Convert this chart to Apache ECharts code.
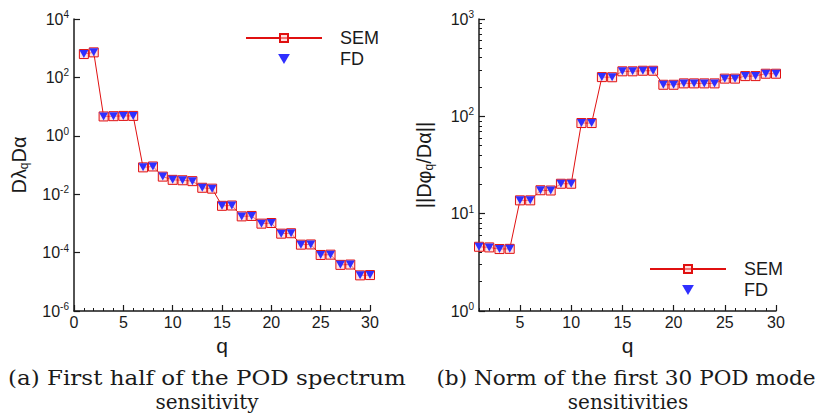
<!DOCTYPE html>
<html>
<head>
<meta charset="utf-8">
<script src="https://cdn.jsdelivr.net/npm/echarts@6/dist/echarts.min.js"></script>
<style>
  html, body { margin: 0; padding: 0; background: #fff; }
  #main { width: 817px; height: 419px; }
</style>
</head>
<body>
<div id="main"></div>
<script>
// q = 1..30
const modes = [1, 2, 3, 4, 5, 6, 7, 8, 9, 10, 11, 12, 13, 14, 15, 16, 17, 18, 19, 20, 21, 22, 23, 24, 25, 26, 27, 28, 29, 30]

// (a) D lambda_q / D alpha
const semLeft = [630, 720, 4.6, 4.7, 4.8, 4.8, 0.083, 0.089, 0.040, 0.031, 0.030, 0.028, 0.0166, 0.0155, 0.0040,
  0.0041, 0.00174, 0.0018, 0.00098, 0.00103, 0.000445, 0.00046, 0.000187, 0.00019, 8.3e-5, 8.5e-5, 3.8e-5, 3.9e-5, 1.66e-5, 1.7e-5]
const fdLeft = [630, 720, 4.6, 4.7, 4.8, 4.8, 0.083, 0.089, 0.040, 0.031, 0.030, 0.028, 0.0166, 0.0155, 0.0040,
  0.0041, 0.00174, 0.0018, 0.00098, 0.00103, 0.000445, 0.00046, 0.000187, 0.00019, 8.3e-5, 8.5e-5, 3.8e-5, 3.9e-5, 1.66e-5, 1.7e-5]

// (b) ||D phi_q / D alpha||
const semRight = [4.57, 4.5, 4.33, 4.35, 13.7, 13.7, 17.4, 17.3, 20.3, 20.3, 85.3, 85.3, 253, 252, 290,
  290, 294, 294, 211, 211, 218, 218, 218, 218, 244, 244, 259, 259, 274, 274]
const fdRight = [4.57, 4.5, 4.33, 4.35, 13.7, 13.7, 17.4, 17.3, 20.3, 20.3, 85.3, 85.3, 253, 252, 290,
  290, 294, 294, 211, 211, 218, 218, 218, 218, 244, 244, 259, 259, 274, 274]

const xLabelsRight = [5, 10, 15, 20, 25, 30]
const yMinorRight = [2, 3, 4, 5, 6, 7, 8, 9, 20, 30, 40, 50, 60, 70, 80, 90, 200, 300, 400, 500, 600, 700, 800, 900]

const pair = (xs, ys) => xs.map((x, i) => [x, ys[i]])

const sans = 'Liberation Sans'
const serif = 'DejaVu Serif'
const ink = '#1a1a1a'
const red = '#e01010'
const blue = '#2f2fff'
const downTri = 'path://M0,0L10,0L5,8.5Z'

const powLabel = {
  fontFamily: sans,
  color: ink,
  formatter: v => '{b|10}{s|' + Math.round(Math.log10(v)) + '}',
  rich: {
    b: { fontSize: 16, fontFamily: sans, color: ink },
    s: { fontSize: 10, fontFamily: sans, color: ink, padding: [0, 0, 9, 0] }
  }
}

const nameRich = {
  n: { fontFamily: sans, fontSize: 20, color: ink },
  sub: { fontFamily: sans, fontSize: 12, color: ink, padding: [10, 0, 0, 0] }
}

function baseX (idx, min, max) {
  return {
    type: 'value',
    gridIndex: idx,
    min: min,
    max: max,
    name: 'q',
    nameLocation: 'middle',
    nameGap: 16,
    nameTextStyle: { fontFamily: sans, fontSize: 21, color: ink },
    splitLine: { show: false },
    axisLine: { onZero: false, lineStyle: { color: ink, width: 1.5 } },
    axisTick: { inside: true, length: 6, lineStyle: { color: ink, width: 1.2 } },
    axisLabel: { fontFamily: sans, fontSize: 16, color: ink, margin: 3 }
  }
}

const semStyle = {
  type: 'line',
  symbol: 'rect',
  symbolSize: 9,
  lineStyle: { color: red, width: 1 },
  itemStyle: {
    color: 'rgba(255,200,200,0.55)',
    borderColor: red,
    borderWidth: 1
  },
  z: 2
}

const fdStyle = {
  type: 'scatter',
  symbol: downTri,
  symbolSize: [9, 8],
  itemStyle: { color: blue, opacity: 1 },
  z: 3
}

const legendBase = {
  orient: 'vertical',
  itemWidth: 76,
  itemHeight: 10,
  itemGap: 3,
  textStyle: { fontFamily: sans, fontSize: 18, color: ink, padding: [0, 0, 0, 13] }
}

const captionFont = '20px "' + serif + '"'
const caption = (x, y, sx, text) => ({
  type: 'text', x: x, y: y, scaleX: sx,
  style: { text: text, font: captionFont, fill: ink, align: 'center', verticalAlign: 'top' }
})

const chart = echarts.init(document.getElementById('main'), null, { renderer: 'svg' })

chart.setOption({
  animation: false,
  backgroundColor: '#fff',
  grid: [
    { left: 74, top: 19, width: 296, height: 292 },
    { left: 479, top: 19, width: 297, height: 292 }
  ],
  legend: [
    Object.assign({ left: 240, top: 24, data: ['SEM', 'FD'] }, legendBase),
    Object.assign({ left: 644, top: 255, data: ['SEM ', 'FD '] }, legendBase)
  ],
  xAxis: [
    Object.assign(baseX(0, 0, 30), {
      interval: 5,
      minorTick: { show: true, splitNumber: 5, length: 3, lineStyle: { color: ink, width: 1 } }
    }),
    Object.assign(baseX(1, 1, 30), {
      axisTick: { inside: true, length: 6, customValues: xLabelsRight, lineStyle: { color: ink, width: 1.2 } },
      axisLabel: { fontFamily: sans, fontSize: 16, color: ink, margin: 3, customValues: xLabelsRight }
    }),
    {
      type: 'value',
      gridIndex: 1,
      position: 'bottom',
      min: 1,
      max: 30,
      axisLine: { show: false, onZero: false },
      splitLine: { show: false },
      axisLabel: { show: false },
      axisTick: { inside: true, length: 3, customValues: modes, lineStyle: { color: ink, width: 1 } }
    }
  ],
  yAxis: [
    {
      type: 'log',
      gridIndex: 0,
      min: 1e-6,
      max: 1e4,
      interval: 2,
      name: '{n|Dλ}{sub|q}{n|Dα}',
      nameLocation: 'middle',
      nameGap: 44,
      nameTextStyle: { rich: nameRich },
      splitLine: { show: false },
      axisLine: { lineStyle: { color: ink, width: 1.5 } },
      axisTick: { inside: true, length: 6, lineStyle: { color: ink, width: 1.2 } },
      axisLabel: Object.assign({ margin: 5 }, powLabel)
    },
    {
      type: 'log',
      gridIndex: 1,
      min: 1,
      max: 1000,
      interval: 1,
      name: '{n|||Dφ}{sub|q}{n|/Dα||}',
      nameLocation: 'middle',
      nameGap: 44,
      nameTextStyle: { rich: nameRich },
      splitLine: { show: false },
      axisLine: { lineStyle: { color: ink, width: 1.5 } },
      axisTick: { inside: true, length: 6, lineStyle: { color: ink, width: 1.2 } },
      axisLabel: Object.assign({ margin: 5 }, powLabel)
    },
    {
      type: 'log',
      gridIndex: 1,
      position: 'left',
      min: 1,
      max: 1000,
      axisLine: { show: false },
      splitLine: { show: false },
      axisLabel: { show: false },
      axisTick: { inside: true, length: 3, customValues: yMinorRight, lineStyle: { color: ink, width: 1 } }
    }
  ],
  series: [
    Object.assign({ name: 'SEM', xAxisIndex: 0, yAxisIndex: 0, data: pair(modes, semLeft) }, semStyle),
    Object.assign({ name: 'FD', xAxisIndex: 0, yAxisIndex: 0, data: pair(modes, fdLeft) }, fdStyle),
    Object.assign({ name: 'SEM ', xAxisIndex: 1, yAxisIndex: 1, data: pair(modes, semRight) }, semStyle),
    Object.assign({ name: 'FD ', xAxisIndex: 1, yAxisIndex: 1, data: pair(modes, fdRight) }, fdStyle)
  ],
  graphic: [
    caption(207, 368, 1.15, '(a) First half of the POD spectrum'),
    caption(207, 392, 1.0, 'sensitivity'),
    caption(626, 368, 1.08, '(b) Norm of the first 30 POD mode'),
    caption(628, 392, 1.0, 'sensitivities')
  ]
})
</script>
</body>
</html>
